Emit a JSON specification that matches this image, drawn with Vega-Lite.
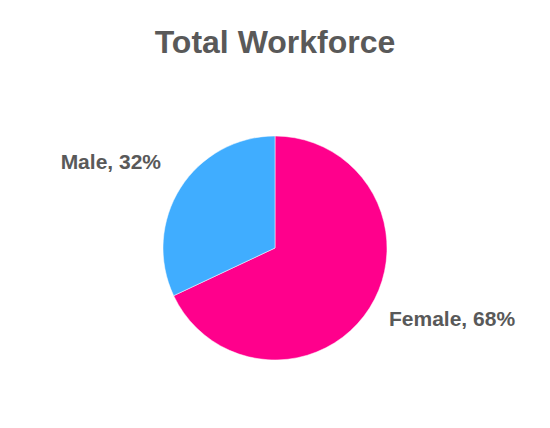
{
  "$schema": "https://vega.github.io/schema/vega-lite/v6.json",
  "width": 550,
  "height": 360,
  "autosize": "none",
  "padding": {"top": 68, "left": 0, "right": 0, "bottom": 0},
  "background": "white",
  "config": {"view": {"stroke": null}},
  "title": {
    "text": "Total Workforce",
    "font": "Liberation Sans",
    "fontSize": 32,
    "fontWeight": "bold",
    "color": "#595959",
    "anchor": "middle",
    "offset": 8
  },
  "data": {
    "values": [
      {"category": "Female", "value": 68, "label": "Female, 68%"},
      {"category": "Male", "value": 32, "label": "Male, 32%"}
    ]
  },
  "encoding": {
    "theta": {"field": "value", "type": "quantitative", "stack": true},
    "order": {"field": "category", "type": "nominal"}
  },
  "layer": [
    {
      "mark": {"type": "arc", "outerRadius": 112, "stroke": "white", "strokeWidth": 0.5},
      "encoding": {
        "color": {
          "field": "category",
          "type": "nominal",
          "scale": {"domain": ["Female", "Male"], "range": ["#FF008C", "#40ADFF"]},
          "legend": null
        }
      }
    },
    {
      "mark": {"type": "text", "radius": 135, "align": "right", "baseline": "middle", "dy": -13, "font": "Liberation Sans", "fontSize": 21, "fontWeight": "bold", "color": "#595959"},
      "encoding": {
        "text": {"condition": {"test": "datum.category === 'Male'", "field": "label"}, "value": ""}
      }
    },
    {
      "mark": {"type": "text", "radius": 135, "align": "left", "baseline": "middle", "font": "Liberation Sans", "fontSize": 21, "fontWeight": "bold", "color": "#595959"},
      "encoding": {
        "text": {"condition": {"test": "datum.category === 'Female'", "field": "label"}, "value": ""}
      }
    }
  ]
}
